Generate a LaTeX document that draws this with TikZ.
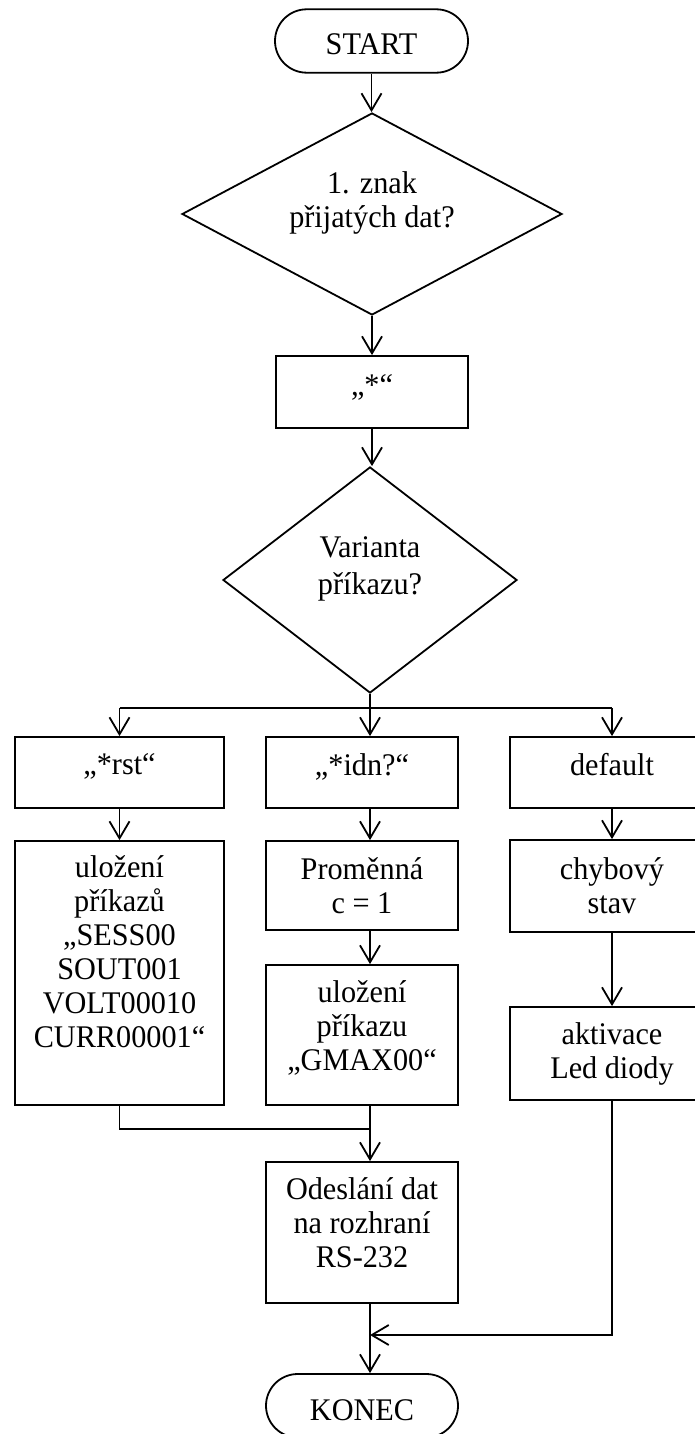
\documentclass[tikz,border=0pt]{standalone}
\usepackage{fontspec}
\setmainfont{Liberation Serif}[FakeStretch=0.96]
\usetikzlibrary{arrows.meta,shapes.geometric}
\begin{document}
\begin{tikzpicture}[x=1pt,y=-1pt,
  line width=1.8pt,
  every node/.style={font=\fontsize{31.5}{34}\selectfont, align=center, inner sep=0pt},
  proc/.style={draw, rectangle},
  term/.style={draw, rectangle, rounded corners=31.7pt},
  decision/.style={draw, diamond},
  arr/.style={-{Straight Barb[length=17pt,width=20pt]}}]
\useasboundingbox (0,0) rectangle (695,1434);
\clip (0,0) rectangle (695,1434);

% main trunk
\node[term, minimum width=193pt, minimum height=63.4pt, text height=28pt, text depth=0pt] (start) at (371.5,41) {START};
\node[decision, aspect=1.88, minimum width=380pt, minimum height=202pt, text depth=28pt] (q1) at (372,214) {1. znak\\přijatých dat?};
\node[proc, minimum width=192pt, minimum height=72pt, text depth=13pt] (star) at (372,392) {„*“};
\node[decision, aspect=1.3, minimum width=294pt, minimum height=226pt, text depth=28pt,
      font=\fontsize{31.5}{37}\selectfont] (q2) at (370,580) {Varianta\\příkazu?};

% first row of branches
\node[proc, minimum width=209pt, minimum height=71pt, text depth=16pt] (L1) at (119.5,772.5) {„*rst“};
\node[proc, minimum width=192pt, minimum height=71pt, text depth=16pt] (M1) at (362,772.5) {„*idn?“};
\node[proc, minimum width=204pt, minimum height=71pt, text depth=16pt] (R1) at (612,772.5) {default};

% second row
\node[proc, minimum width=209pt, minimum height=264pt, text depth=42.5pt] (L2) at (119.5,973)
  {uložení\\příkazů\\„SESS00\\SOUT001\\VOLT00010\\CURR00001“};
\node[proc, minimum width=192pt, minimum height=89pt] (M2) at (362,885.5) {Proměnná\\c = 1};
\node[proc, minimum width=192pt, minimum height=140pt, text depth=19.5pt] (M3) at (362,1035)
  {uložení\\příkazu\\„GMAX00“};
\node[proc, minimum width=204pt, minimum height=92pt] (R2) at (612,886) {chybový\\stav};
\node[proc, minimum width=204pt, minimum height=93pt] (R3) at (612,1053.5) {aktivace\\Led diody};

% output and end
\node[proc, minimum width=192pt, minimum height=141pt, text depth=19.5pt] (send) at (362,1232.5)
  {Odeslání dat\\na rozhraní\\RS-232};
\node[term, minimum width=192pt, minimum height=63.4pt, text height=30pt, text depth=0pt] (stop) at (362,1405.7) {KONEC};

% routing points
\coordinate (ax) at (370,0);
\coordinate (split) at (370,708);
\coordinate (merge) at (370,1129);
\coordinate (back) at (370,1335);

% connectors
\draw[arr] (start.south) -- (start.south |- q1.north);
\draw[arr] (q1.south) -- (q1.south |- star.north);
\draw[arr] (star.south) -- (star.south |- q2.north);
\draw (q2.south) -- (split);
\draw (L1.north |- split) -- (R1.north |- split);
\draw[arr] (L1.north |- split) -- (L1.north);
\draw[arr] (ax |- split) -- (ax |- M1.north);
\draw[arr] (R1.north |- split) -- (R1.north);

\draw[arr] (L1.south) -- (L2.north);
\draw[arr] (ax |- M1.south) -- (ax |- M2.north);
\draw[arr] (R1.south) -- (R2.north);
\draw[arr] (ax |- M2.south) -- (ax |- M3.north);
\draw[arr] (R2.south) -- (R3.north);

\draw (L2.south) |- (merge);
\draw[arr] (ax |- M3.south) -- (ax |- send.north);
\draw[arr] (R3.south) |- (back);
\draw[arr] (ax |- send.south) -- (ax |- stop.north);
\end{tikzpicture}
\end{document}
